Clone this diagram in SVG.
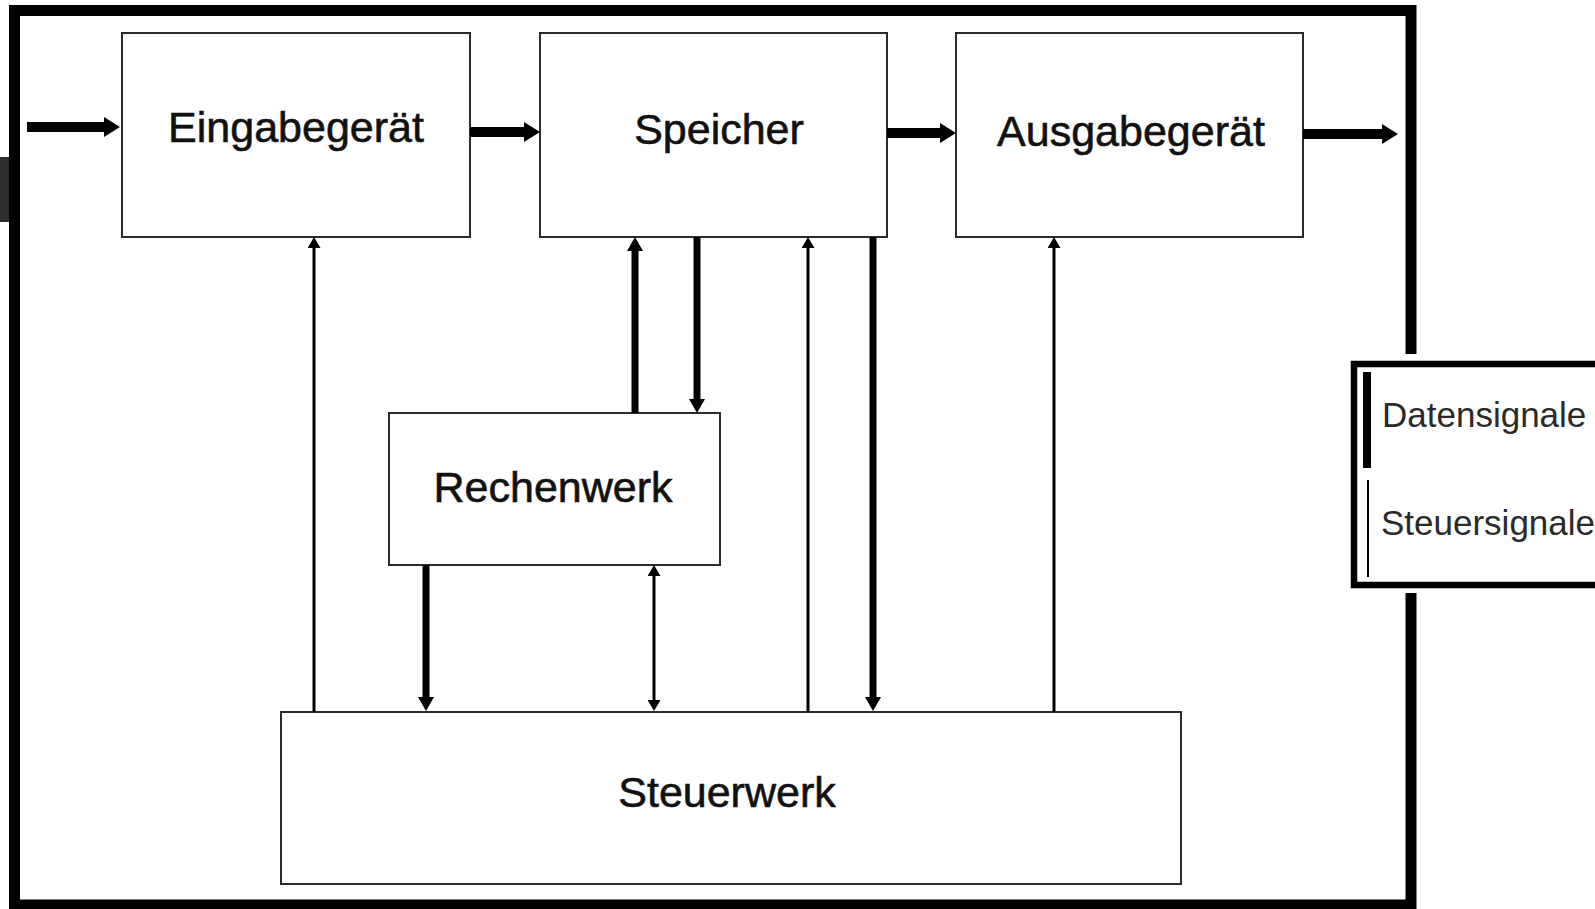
<svg xmlns="http://www.w3.org/2000/svg" width="1595" height="909" viewBox="0 0 1595 909">
  <style>
    .box { fill: #ffffff; stroke: #2b2b2b; stroke-width: 2; }
    .label { font-family: "Liberation Sans", Arial, sans-serif; font-size: 43px; fill: #111111; stroke: #111111; stroke-width: 0.6; text-anchor: middle; }
    .legend-text { font-family: "Liberation Sans", Arial, sans-serif; font-size: 35px; fill: #2a2a2a; }
    .data-h { stroke: #000000; stroke-width: 10; fill: none; }
    .data-v { stroke: #000000; stroke-width: 7; fill: none; }
    .ctrl { stroke: #000000; stroke-width: 3; fill: none; }
  </style>
  <defs>
    <marker id="ahH" viewBox="0 -10 16 20" refX="0" refY="0" markerWidth="16" markerHeight="20" markerUnits="userSpaceOnUse" orient="auto">
      <path d="M0,-10 L16,0 L0,10 z" fill="#000000"/>
    </marker>
    <marker id="ahV" viewBox="0 -8 14 16" refX="0" refY="0" markerWidth="14" markerHeight="16" markerUnits="userSpaceOnUse" orient="auto">
      <path d="M0,-8 L14,0 L0,8 z" fill="#000000"/>
    </marker>
    <marker id="ahT" viewBox="0 -6.5 11 13" refX="0" refY="0" markerWidth="11" markerHeight="13" markerUnits="userSpaceOnUse" orient="auto-start-reverse">
      <path d="M0,-6.5 L11,0 L0,6.5 z" fill="#000000"/>
    </marker>
  </defs>

  <rect x="0" y="0" width="1595" height="909" fill="#ffffff"/>

  <!-- outer frame -->
  <g id="frame">
    <rect x="14.5" y="10.5" width="1396.5" height="894.5" fill="none" stroke="#000000" stroke-width="11"/>
    <rect x="0" y="157" width="9" height="65" fill="#2d2d2d"/>
    <rect x="1342" y="354" width="260" height="239" fill="#ffffff"/>
  </g>

  <!-- nodes -->
  <g id="eingabegeraet">
    <rect class="box" x="122" y="33" width="348" height="204"/>
    <text class="label" x="296" y="142">Eingabegerät</text>
  </g>
  <g id="speicher">
    <rect class="box" x="540" y="33" width="347" height="204"/>
    <text class="label" x="719" y="144">Speicher</text>
  </g>
  <g id="ausgabegeraet">
    <rect class="box" x="956" y="33" width="347" height="204"/>
    <text class="label" x="1131" y="146">Ausgabegerät</text>
  </g>
  <g id="rechenwerk">
    <rect class="box" x="389" y="413" width="331" height="152"/>
    <text class="label" x="553" y="502">Rechenwerk</text>
  </g>
  <g id="steuerwerk">
    <rect class="box" x="281" y="712" width="900" height="172"/>
    <text class="label" x="727" y="807">Steuerwerk</text>
  </g>

  <!-- connectors -->
  <g id="connectors">
    <line class="data-h" x1="27" y1="127" x2="104" y2="127" marker-end="url(#ahH)"/>
    <line class="data-h" x1="470" y1="132" x2="524" y2="132" marker-end="url(#ahH)"/>
    <line class="data-h" x1="887" y1="133" x2="940" y2="133" marker-end="url(#ahH)"/>
    <line class="data-h" x1="1303" y1="134" x2="1382" y2="134" marker-end="url(#ahH)"/>

    <line class="ctrl" x1="314" y1="712" x2="314" y2="248" marker-end="url(#ahT)"/>
    <line class="data-v" x1="635" y1="413" x2="635" y2="251" marker-end="url(#ahV)"/>
    <line class="data-v" x1="697" y1="237" x2="697" y2="399" marker-end="url(#ahV)"/>
    <line class="ctrl" x1="808" y1="712" x2="808" y2="248" marker-end="url(#ahT)"/>
    <line class="data-v" x1="873" y1="237" x2="873" y2="697" marker-end="url(#ahV)"/>
    <line class="ctrl" x1="1054" y1="712" x2="1054" y2="248" marker-end="url(#ahT)"/>
    <line class="data-v" x1="426" y1="565" x2="426" y2="697" marker-end="url(#ahV)"/>
    <line class="ctrl" x1="654" y1="576" x2="654" y2="700" marker-start="url(#ahT)" marker-end="url(#ahT)"/>
  </g>

  <!-- legend -->
  <g id="legend">
    <rect x="1354" y="364" width="250" height="221" fill="#ffffff" stroke="#000000" stroke-width="6.5"/>
    <rect x="1363" y="372" width="8" height="96" fill="#000000"/>
    <line x1="1368" y1="480" x2="1368" y2="577" stroke="#000000" stroke-width="2"/>
    <text class="legend-text" x="1382" y="427">Datensignale</text>
    <text class="legend-text" x="1381" y="535">Steuersignale</text>
  </g>
</svg>
